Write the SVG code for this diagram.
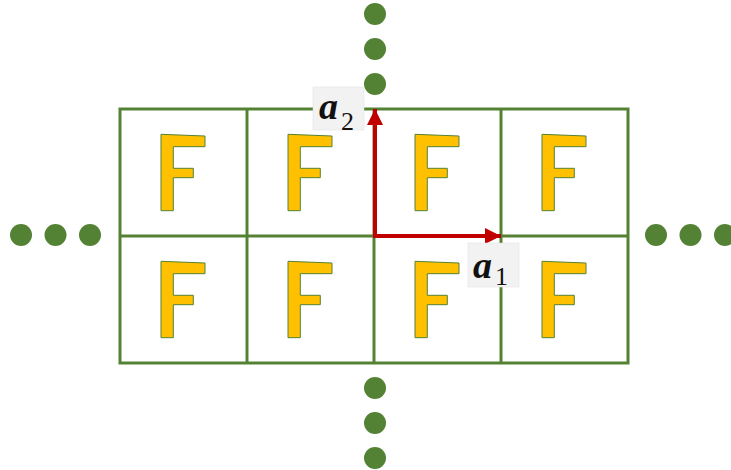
<svg xmlns="http://www.w3.org/2000/svg" width="731" height="470" viewBox="0 0 731 470">
  <style>
    .grid { fill: none; stroke: #548235; stroke-width: 3; }
    .dot { fill: #548235; }
    .glyph { fill: #FFC000; stroke: #548235; stroke-width: 1; stroke-linejoin: miter; }
    .vec { stroke: #C00000; stroke-width: 4; fill: none; }
    .tag { fill: #F2F2F2; stroke: #E0E0E0; stroke-width: 0.5; }
    .sym { font-family: "Liberation Serif", "DejaVu Serif", serif; font-weight: bold; font-style: italic; font-size: 38px; fill: #111; }
    .sub { font-family: "Liberation Serif", "DejaVu Serif", serif; font-style: normal; font-weight: normal; font-size: 26px; }
  </style>
  <defs>
    <!-- letter F tile, local to a 127x127 cell -->
    <polygon id="letterF" class="glyph" points="41,25.3 85,27 85,37.7 53.3,37.7 53.3,59.3 73.3,59.3 73.3,68.7 53.3,68.7 53.3,101.7 41,101.7"/>
    <marker id="head" viewBox="0 0 10 10" refX="10" refY="5" markerWidth="4" markerHeight="4" markerUnits="strokeWidth" orient="auto">
      <path d="M0,0 L10,5 L0,10 z" fill="#C00000"/>
    </marker>
  </defs>

  <!-- lattice cells -->
  <g id="lattice">
    <rect class="grid" x="120" y="109" width="508" height="254"/>
    <line class="grid" x1="120" y1="236" x2="628" y2="236"/>
    <line class="grid" x1="247" y1="109" x2="247" y2="363"/>
    <line class="grid" x1="374" y1="109" x2="374" y2="363"/>
    <line class="grid" x1="501" y1="109" x2="501" y2="363"/>
  </g>

  <g id="motifs">
    <use href="#letterF" x="120" y="109"/>
    <use href="#letterF" x="247" y="109"/>
    <use href="#letterF" x="374" y="109"/>
    <use href="#letterF" x="501" y="109"/>
    <use href="#letterF" x="120" y="236"/>
    <use href="#letterF" x="247" y="236"/>
    <use href="#letterF" x="374" y="236"/>
    <use href="#letterF" x="501" y="236"/>
  </g>

  <!-- continuation dots -->
  <g id="dots-left">
    <circle class="dot" cx="21" cy="235" r="11"/>
    <circle class="dot" cx="55.5" cy="235" r="11"/>
    <circle class="dot" cx="90" cy="235" r="11"/>
  </g>
  <g id="dots-right">
    <circle class="dot" cx="656" cy="235" r="11"/>
    <circle class="dot" cx="690.5" cy="235" r="11"/>
    <circle class="dot" cx="725" cy="235" r="11"/>
  </g>
  <g id="dots-top">
    <circle class="dot" cx="375" cy="14" r="11"/>
    <circle class="dot" cx="375" cy="49" r="11"/>
    <circle class="dot" cx="375" cy="84" r="11"/>
  </g>
  <g id="dots-bottom">
    <circle class="dot" cx="375" cy="388" r="11"/>
    <circle class="dot" cx="375" cy="423" r="11"/>
    <circle class="dot" cx="375" cy="458" r="11"/>
  </g>

  <!-- basis vectors -->
  <g id="connectors">
    <line class="vec" x1="375" y1="236" x2="375" y2="109" marker-end="url(#head)"/>
    <line class="vec" x1="373" y1="236" x2="501" y2="236" marker-end="url(#head)"/>
  </g>

  <g id="label-a2">
    <rect class="tag" x="313" y="87" width="51" height="43"/>
    <text class="sym" x="319" y="119">a<tspan class="sub" x="341" y="130">2</tspan></text>
  </g>
  <g id="label-a1">
    <rect class="tag" x="468" y="243" width="51" height="44"/>
    <text class="sym" x="473" y="278">a<tspan class="sub" x="495" y="285">1</tspan></text>
  </g>
</svg>
